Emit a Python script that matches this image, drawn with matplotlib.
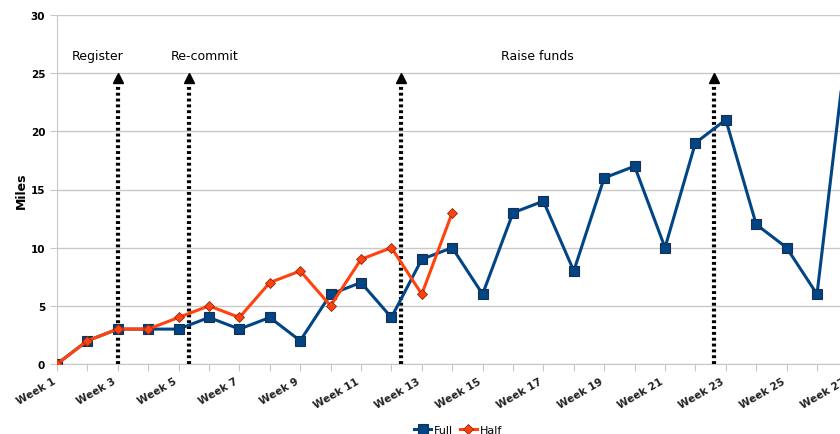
import matplotlib.pyplot as plt
import numpy as np

weeks = np.arange(1, 28)
full = [0, 2, 3, 3, 3, 4, 3, 4, 2, 6, 7, 4, 9, 10, 6, 13, 14, 8, 16, 17, 10, 19, 21, 12, 10, 6, 28]
half = [0, 2, 3, 3, 4, 5, 4, 7, 8, 5, 9, 10, 6, 13]
week_labels = ["Week %d" % w for w in weeks]

events = [3.0, 5.35, 12.3, 22.6]
event_labels = ["Register", "Re-commit", "Raise funds"]
label_x = [2.32, 5.84, 16.8]

blue = "#004586"
orange = "#ff420e"

fig = plt.figure(figsize=(8.4, 4.35), dpi=100)
ax = fig.add_axes([57/840, 70/435, 1 - 57/840, 349/435])

ax.set_yticks(range(0, 31, 5))
ax.grid(axis="y", color="#c8c8c8", lw=1)
ax.set_axisbelow(True)
for s in ["top", "right"]:
    ax.spines[s].set_visible(False)
ax.spines["left"].set_color("#c8c8c8")
ax.spines["bottom"].set_color("#c8c8c8")

ax.set_xticks(weeks)
ax.set_xticklabels([l if w % 2 == 1 else "" for w, l in zip(weeks, week_labels)],
                   rotation=30, ha="right", fontsize=7.5, fontweight="bold", color="#222222")
ax.tick_params(axis="x", length=5, color="#c8c8c8")
ax.tick_params(axis="y", length=5, color="#c8c8c8", labelsize=7.5)
for t in ax.get_yticklabels():
    t.set_fontweight("bold")

# last label sits past the right edge, draw it by hand so it shows cut off
ax.annotate(week_labels[-1], xy=(weeks[-1], 0), xycoords=ax.get_xaxis_transform(),
            xytext=(0, -8.5), textcoords="offset points", rotation=30, ha="right", va="top",
            fontsize=7.5, fontweight="bold", color="#222222", annotation_clip=False)

ax.set_ylabel("Miles", fontsize=9, fontweight="bold", labelpad=2)

for x in events:
    ax.plot([x, x], [0, 24.3], color="black", lw=3, linestyle=(0, (0.7, 0.7)), zorder=4, clip_on=False)
    ax.plot([x], [24.6], marker="^", color="black", ms=7, zorder=4)
for x, t in zip(label_x, event_labels):
    ax.text(x, 26.5, t, ha="center", va="center", fontsize=9)

ax.plot(weeks, full, color=blue, lw=2.2, marker="s", ms=7, mec="#1a2f4f", mew=0.8,
        label="Full", zorder=5)
ax.plot(weeks[:len(half)], half, color=orange, lw=2.2, marker="D", ms=5, mec="#8a2a10", mew=0.6,
        label="Half", zorder=6)

ax.set_ylim(0, 30)
ax.set_xlim(1, 1 + (840 - 57) / 30.4)

fig.legend(loc="lower center", bbox_to_anchor=(0.545, -0.025), ncol=2, frameon=False,
           fontsize=8, handlelength=1.6, columnspacing=0.6, handletextpad=0.2)

fig.savefig("out.png", dpi=100)
